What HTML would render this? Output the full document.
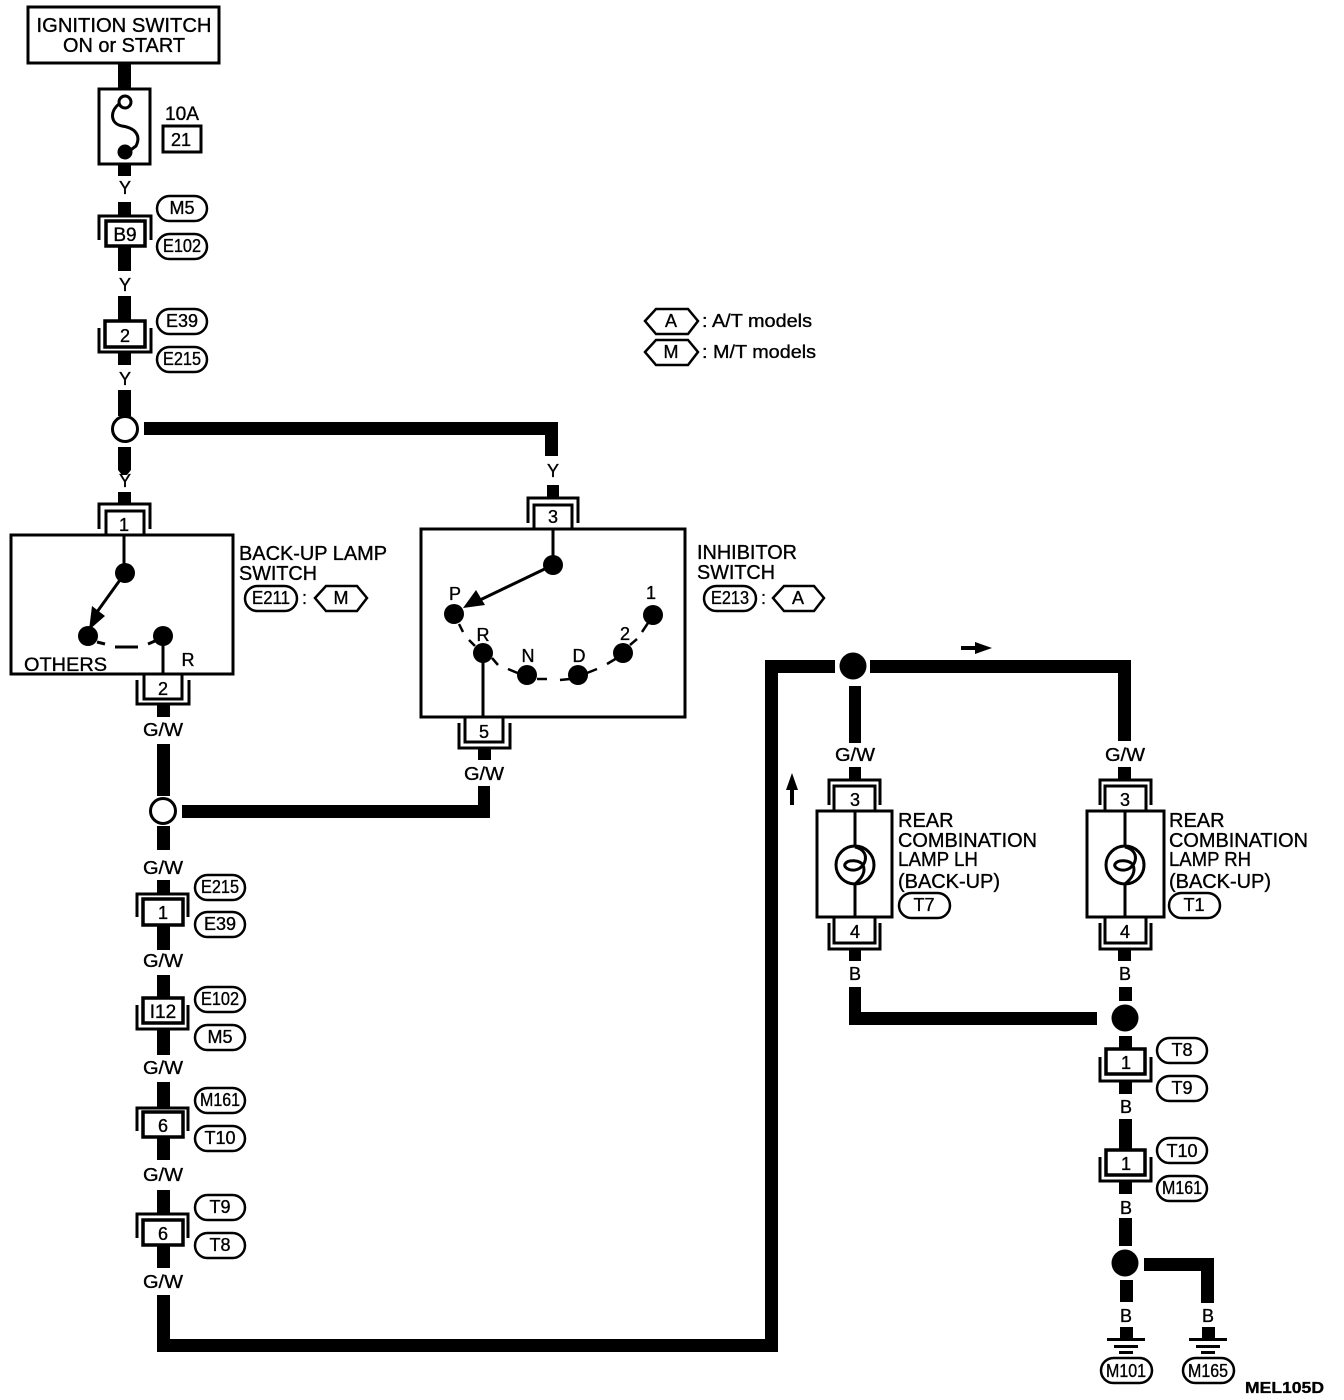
<!DOCTYPE html>
<html><head><meta charset="utf-8"><style>
html,body{margin:0;padding:0;background:#fff}
svg{display:block}
text{font-family:"Liberation Sans",sans-serif;font-size:20px;fill:#000;stroke:#000;stroke-width:.35}
.c{text-anchor:middle}
.t{fill:none;stroke:#000;stroke-width:3}
.b{fill:#fff;stroke:#000;stroke-width:3}
.h{fill:none;stroke:#000;stroke-width:2.500}
</style></head><body>
<svg width="1344" height="1400" viewBox="0 0 1344 1400" xmlns="http://www.w3.org/2000/svg">
<!-- thick wires -->
<g fill="#000">
<rect x="118" y="63" width="13" height="26"/>
<rect x="118" y="164" width="13" height="12"/>
<rect x="118" y="202" width="13" height="14"/>
<rect x="118" y="246" width="13" height="25"/>
<rect x="118" y="296" width="13" height="26"/>
<rect x="118" y="353" width="13" height="12"/>
<rect x="118" y="390" width="13" height="26"/>
<path d="M118 447H131V470L127 475H122L118 470z"/>
<rect x="118" y="492" width="13" height="11"/>
<path d="M144 422H558V456H545V435H144z"/>
<rect x="547" y="485" width="12" height="12"/>
<rect x="157" y="705" width="13" height="12"/>
<rect x="157" y="744" width="13" height="52"/>
<rect x="157" y="826" width="13" height="24"/>
<rect x="157" y="880" width="13" height="14"/>
<rect x="157" y="925" width="13" height="25"/>
<rect x="157" y="975" width="13" height="24"/>
<rect x="157" y="1030" width="13" height="25"/>
<rect x="157" y="1082" width="13" height="26"/>
<rect x="157" y="1135" width="13" height="25"/>
<rect x="157" y="1190" width="13" height="24"/>
<rect x="157" y="1245" width="13" height="23"/>
<rect x="478" y="748" width="13" height="12"/>
<path d="M182 805H478V786H490V818H182z"/>
<path d="M157 1295H170V1339H765V660H835V673H778V1352H157z"/>
<path d="M870 660H1131V741H1118V673H870z"/>
<rect x="849" y="686" width="12" height="57"/>
<rect x="849" y="767" width="12" height="13"/>
<rect x="1118" y="767" width="13" height="13"/>
<rect x="849" y="949" width="12" height="12"/>
<rect x="1118" y="949" width="13" height="12"/>
<path d="M849 987H861V1012H1097V1025H849z"/>
<rect x="1119" y="987" width="13" height="14"/>
<rect x="1119" y="1036" width="13" height="14"/>
<rect x="1119" y="1082" width="13" height="12"/>
<rect x="1119" y="1119" width="13" height="32"/>
<rect x="1119" y="1182" width="13" height="12"/>
<rect x="1119" y="1218" width="13" height="28"/>
<path d="M1144 1258H1214V1303H1201V1271H1144z"/>
<rect x="1120" y="1280" width="13" height="22"/>
<rect x="1120" y="1327" width="13" height="12"/>
<rect x="1202" y="1327" width="13" height="12"/>
<circle cx="853" cy="666" r="13.500"/>
<circle cx="1125" cy="1018" r="13.500"/>
<circle cx="1125" cy="1263" r="13.500"/>
<rect x="1107" y="1338" width="38" height="3"/>
<rect x="1114" y="1345" width="24" height="3"/>
<rect x="1119" y="1351" width="14" height="3"/>
<rect x="1189" y="1338" width="38" height="3"/>
<rect x="1196" y="1345" width="24" height="3"/>
<rect x="1201" y="1351" width="14" height="3"/>
<path d="M961 646H975V642L992 648L975 654V650H961z"/>
<path d="M792 773L798 790H794V805H790V790H786z"/>
</g>
<circle class="b" cx="125" cy="429" r="12.500"/>
<circle class="b" cx="163" cy="811" r="12.500"/>

<!-- ignition and fuse -->
<rect class="t" x="28" y="7" width="191" height="56"/>
<text class="c" x="124" y="32" textLength="175" lengthAdjust="spacingAndGlyphs">IGNITION SWITCH</text>
<text class="c" x="124" y="52" textLength="122" lengthAdjust="spacingAndGlyphs">ON or START</text>
<rect class="t" x="99" y="89" width="51" height="75"/>
<circle cx="125" cy="102" r="6" fill="#fff" stroke="#000" stroke-width="3"/>
<path fill="none" stroke="#000" stroke-width="3" d="M119 104C109 112 111 124 122 126C136 128 141 136 136 146L128 152"/>
<circle cx="125" cy="152" r="7.500"/>
<text class="c" x="182" y="120" style="font-size:19px" textLength="34" lengthAdjust="spacingAndGlyphs">10A</text>
<rect class="t" x="163" y="126" width="38" height="26"/>
<text class="c" x="181" y="146" style="font-size:18px">21</text>

<!-- left top connectors -->
<path class="t" d="M99 240V216H151V240"/>
<rect class="b" x="106" y="221" width="39" height="25" style="stroke-width:3.500"/>
<text class="c" x="125" y="241" style="font-size:19px">B9</text>
<path class="t" d="M99 328V352H151V328"/>
<rect class="b" x="105" y="321" width="40" height="26" style="stroke-width:3.500"/>
<text class="c" x="125" y="342" style="font-size:18px">2</text>

<path class="t" d="M99 529V504H150V529"/>
<path class="t" d="M106 535V511H144V535"/>
<text class="c" x="124" y="531" style="font-size:18px">1</text>

<!-- back-up switch -->
<rect class="t" x="11" y="535" width="222" height="139"/>
<path class="t" d="M124 535V572M125 573L97 612M163 636V674M115 647H138M97 642L105 644M148 644L155 641"/>
<circle cx="125" cy="573" r="10"/>
<circle cx="88" cy="636" r="10"/>
<circle cx="163" cy="636" r="10"/>
<path d="M89 630L92 606L105 616z"/>
<text x="24" y="671" style="font-size:19px" textLength="83" lengthAdjust="spacingAndGlyphs">OTHERS</text>
<text class="c" x="188" y="666" style="font-size:18px">R</text>
<path class="t" d="M137 680V704H189V680"/>
<path class="t" d="M144 675V699H182V675"/>
<text class="c" x="163" y="695" style="font-size:18px">2</text>
<text x="239" y="560" textLength="148" lengthAdjust="spacingAndGlyphs">BACK-UP LAMP</text>
<text x="239" y="580" textLength="78" lengthAdjust="spacingAndGlyphs">SWITCH</text>

<!-- inhibitor switch -->
<rect class="t" x="421" y="529" width="264" height="188"/>
<path class="t" d="M534 529V505H572V529"/>
<path class="t" d="M528 523V498H578V523"/>
<text class="c" x="553" y="523" style="font-size:18px">3</text>
<path class="t" d="M553 529V565M553 565L480 600M483 653V717"/>
<path d="M463 608L476 590L485 605z"/>
<circle cx="553" cy="565" r="10"/>
<circle cx="454" cy="614" r="10"/>
<circle cx="483" cy="653" r="10"/>
<circle cx="527" cy="675" r="10"/>
<circle cx="578" cy="675" r="10"/>
<circle cx="623" cy="653" r="10"/>
<circle cx="653" cy="615" r="10"/>
<path class="h" d="M459 624L463 632M469 640L475 646M492 658L498 665M508 669L520 674M537 679H547M560 680L570 679M587 673L597 669M607 664L617 658M630 645L637 639M642 632L648 623"/>
<text class="c" x="455" y="600" style="font-size:18px">P</text>
<text class="c" x="483" y="641" style="font-size:18px">R</text>
<text class="c" x="528" y="662" style="font-size:18px">N</text>
<text class="c" x="579" y="662" style="font-size:18px">D</text>
<text class="c" x="625" y="640" style="font-size:18px">2</text>
<text class="c" x="651" y="599" style="font-size:18px">1</text>
<path class="t" d="M465 717V742H503V717"/>
<path class="t" d="M459 723V748H510V723"/>
<text class="c" x="484" y="738" style="font-size:18px">5</text>
<text x="697" y="559" textLength="100" lengthAdjust="spacingAndGlyphs">INHIBITOR</text>
<text x="697" y="579" textLength="78" lengthAdjust="spacingAndGlyphs">SWITCH</text>

<!-- left lower connectors -->
<path class="t" d="M137 917V894H188V917"/>
<rect class="b" x="143" y="899" width="40" height="26" style="stroke-width:3.500"/>
<text class="c" x="163" y="919" style="font-size:18px">1</text>
<path class="t" d="M137 1005V1029H188V1005"/>
<rect class="b" x="143" y="998" width="40" height="25" style="stroke-width:3.500"/>
<text class="c" x="163" y="1018" style="font-size:19px">I12</text>
<path class="t" d="M137 1131V1108H188V1131"/>
<rect class="b" x="143" y="1112" width="40" height="25" style="stroke-width:3.500"/>
<text class="c" x="163" y="1132" style="font-size:18px">6</text>
<path class="t" d="M137 1238V1214H188V1238"/>
<rect class="b" x="143" y="1220" width="40" height="25" style="stroke-width:3.500"/>
<text class="c" x="163" y="1240" style="font-size:18px">6</text>

<!-- lamps -->
<path class="t" d="M829 805V780H880V805"/>
<path class="t" d="M834 811V786H875V811"/>
<text class="c" x="855" y="806" style="font-size:18px">3</text>
<rect class="t" x="817" y="811" width="75" height="106"/>
<path class="t" d="M855 811V917"/>
<circle cx="855" cy="865" r="19" fill="#fff" stroke="#000" stroke-width="3"/>
<path fill="none" stroke="#000" stroke-width="3" d="M855 847C868 850 868 862 860 868C852 873 843 868 845 864C848 859 860 860 863 865C866 872 862 878 855 884"/>
<path class="t" d="M834 917V943H875V917"/>
<path class="t" d="M829 923V949H880V923"/>
<text class="c" x="855" y="938" style="font-size:18px">4</text>
<text x="898" y="827">REAR</text>
<text x="898" y="847" textLength="139" lengthAdjust="spacingAndGlyphs">COMBINATION</text>
<text x="898" y="866" textLength="80" lengthAdjust="spacingAndGlyphs">LAMP LH</text>
<text x="898" y="888" textLength="102" lengthAdjust="spacingAndGlyphs">(BACK-UP)</text>

<path class="t" d="M1100 805V780H1151V805"/>
<path class="t" d="M1105 811V786H1146V811"/>
<text class="c" x="1125" y="806" style="font-size:18px">3</text>
<rect class="t" x="1087" y="811" width="77" height="106"/>
<path class="t" d="M1125 811V917"/>
<circle cx="1125" cy="865" r="19" fill="#fff" stroke="#000" stroke-width="3"/>
<path fill="none" stroke="#000" stroke-width="3" d="M1125 847C1138 850 1138 862 1130 868C1122 873 1113 868 1115 864C1118 859 1130 860 1133 865C1136 872 1132 878 1125 884"/>
<path class="t" d="M1105 917V943H1146V917"/>
<path class="t" d="M1100 923V949H1151V923"/>
<text class="c" x="1125" y="938" style="font-size:18px">4</text>
<text x="1169" y="827">REAR</text>
<text x="1169" y="847" textLength="139" lengthAdjust="spacingAndGlyphs">COMBINATION</text>
<text x="1169" y="866" textLength="82" lengthAdjust="spacingAndGlyphs">LAMP RH</text>
<text x="1169" y="888" textLength="102" lengthAdjust="spacingAndGlyphs">(BACK-UP)</text>

<!-- right lower connectors -->
<path class="t" d="M1100 1057V1081H1151V1057"/>
<rect class="b" x="1106" y="1049" width="39" height="25" style="stroke-width:3.500"/>
<text class="c" x="1126" y="1069" style="font-size:18px">1</text>
<path class="t" d="M1100 1157V1181H1151V1157"/>
<rect class="b" x="1106" y="1150" width="39" height="25" style="stroke-width:3.500"/>
<text class="c" x="1126" y="1170" style="font-size:18px">1</text>

<!-- wire colour labels -->
<text class="c" x="125" y="194" style="font-size:18px">Y</text>
<text class="c" x="125" y="291" style="font-size:18px">Y</text>
<text class="c" x="125" y="385" style="font-size:18px">Y</text>
<text class="c" x="125" y="487" style="font-size:18px">Y</text>
<text class="c" x="553" y="477" style="font-size:18px">Y</text>
<text class="c" x="163" y="736" style="font-size:18px" textLength="40" lengthAdjust="spacingAndGlyphs">G/W</text>
<text class="c" x="484" y="780" style="font-size:18px" textLength="40" lengthAdjust="spacingAndGlyphs">G/W</text>
<text class="c" x="163" y="874" style="font-size:18px" textLength="40" lengthAdjust="spacingAndGlyphs">G/W</text>
<text class="c" x="163" y="967" style="font-size:18px" textLength="40" lengthAdjust="spacingAndGlyphs">G/W</text>
<text class="c" x="163" y="1074" style="font-size:18px" textLength="40" lengthAdjust="spacingAndGlyphs">G/W</text>
<text class="c" x="163" y="1181" style="font-size:18px" textLength="40" lengthAdjust="spacingAndGlyphs">G/W</text>
<text class="c" x="163" y="1288" style="font-size:18px" textLength="40" lengthAdjust="spacingAndGlyphs">G/W</text>
<text class="c" x="855" y="761" style="font-size:18px" textLength="40" lengthAdjust="spacingAndGlyphs">G/W</text>
<text class="c" x="1125" y="761" style="font-size:18px" textLength="40" lengthAdjust="spacingAndGlyphs">G/W</text>
<text class="c" x="855" y="980" style="font-size:18px">B</text>
<text class="c" x="1125" y="980" style="font-size:18px">B</text>
<text class="c" x="1126" y="1113" style="font-size:18px">B</text>
<text class="c" x="1126" y="1214" style="font-size:18px">B</text>
<text class="c" x="1126" y="1322" style="font-size:18px">B</text>
<text class="c" x="1208" y="1322" style="font-size:18px">B</text>

<!-- pills -->
<g class="h">
<rect x="157" y="196" width="50" height="25" rx="12.500"/>
<rect x="157" y="234" width="50" height="25" rx="12.500"/>
<rect x="157" y="309" width="50" height="25" rx="12.500"/>
<rect x="157" y="347" width="50" height="25" rx="12.500"/>
<rect x="245" y="586" width="52" height="25" rx="12.500"/>
<rect x="704" y="586" width="52" height="25" rx="12.500"/>
<rect x="195" y="875" width="50" height="25" rx="12.500"/>
<rect x="195" y="912" width="50" height="25" rx="12.500"/>
<rect x="195" y="987" width="50" height="25" rx="12.500"/>
<rect x="195" y="1025" width="50" height="25" rx="12.500"/>
<rect x="195" y="1088" width="50" height="25" rx="12.500"/>
<rect x="195" y="1126" width="50" height="25" rx="12.500"/>
<rect x="195" y="1195" width="50" height="25" rx="12.500"/>
<rect x="195" y="1233" width="50" height="25" rx="12.500"/>
<rect x="899" y="893" width="51" height="25" rx="12.500"/>
<rect x="1169" y="893" width="51" height="25" rx="12.500"/>
<rect x="1157" y="1038" width="50" height="25" rx="12.500"/>
<rect x="1157" y="1076" width="50" height="25" rx="12.500"/>
<rect x="1157" y="1138" width="50" height="25" rx="12.500"/>
<rect x="1157" y="1176" width="50" height="25" rx="12.500"/>
<rect x="1101" y="1358" width="51" height="25" rx="12.500"/>
<rect x="1183" y="1358" width="51" height="25" rx="12.500"/>
<path d="M645 321L656 309H688L698 321L688 334H656z"/>
<path d="M645 352L656 340H688L698 352L688 365H656z"/>
<path d="M315 598L326 586H357L367 598L357 611H326z"/>
<path d="M773 598L784 586H814L824 598L814 611H784z"/>
</g>
<text class="c" x="182" y="214" style="font-size:18px">M5</text>
<text class="c" x="182" y="252" style="font-size:18px" textLength="38" lengthAdjust="spacingAndGlyphs">E102</text>
<text class="c" x="182" y="327" style="font-size:18px">E39</text>
<text class="c" x="182" y="365" style="font-size:18px" textLength="38" lengthAdjust="spacingAndGlyphs">E215</text>
<text class="c" x="271" y="604" style="font-size:18px" textLength="38" lengthAdjust="spacingAndGlyphs">E211</text>
<text class="c" x="730" y="604" style="font-size:18px" textLength="38" lengthAdjust="spacingAndGlyphs">E213</text>
<text class="c" x="220" y="893" style="font-size:18px" textLength="38" lengthAdjust="spacingAndGlyphs">E215</text>
<text class="c" x="220" y="930" style="font-size:18px">E39</text>
<text class="c" x="220" y="1005" style="font-size:18px" textLength="38" lengthAdjust="spacingAndGlyphs">E102</text>
<text class="c" x="220" y="1043" style="font-size:18px">M5</text>
<text class="c" x="220" y="1106" style="font-size:18px" textLength="40" lengthAdjust="spacingAndGlyphs">M161</text>
<text class="c" x="220" y="1144" style="font-size:18px">T10</text>
<text class="c" x="220" y="1213" style="font-size:18px">T9</text>
<text class="c" x="220" y="1251" style="font-size:18px">T8</text>
<text class="c" x="924" y="911" style="font-size:18px">T7</text>
<text class="c" x="1194" y="911" style="font-size:18px">T1</text>
<text class="c" x="1182" y="1056" style="font-size:18px">T8</text>
<text class="c" x="1182" y="1094" style="font-size:18px">T9</text>
<text class="c" x="1182" y="1157" style="font-size:18px">T10</text>
<text class="c" x="1182" y="1194" style="font-size:18px" textLength="40" lengthAdjust="spacingAndGlyphs">M161</text>
<text class="c" x="1126" y="1377" style="font-size:18px" textLength="40" lengthAdjust="spacingAndGlyphs">M101</text>
<text class="c" x="1208" y="1377" style="font-size:18px" textLength="40" lengthAdjust="spacingAndGlyphs">M165</text>
<text class="c" x="341" y="604" style="font-size:18px">M</text>
<text class="c" x="671" y="327" style="font-size:18px">A</text>
<text class="c" x="671" y="358" style="font-size:18px">M</text>
<text class="c" x="798" y="604" style="font-size:18px">A</text>
<text x="302" y="604" style="font-size:18px">:</text>
<text x="761" y="604" style="font-size:18px">:</text>
<text x="702" y="327" style="font-size:18px" textLength="110" lengthAdjust="spacingAndGlyphs">: A/T models</text>
<text x="702" y="358" style="font-size:18px" textLength="114" lengthAdjust="spacingAndGlyphs">: M/T models</text>
<text x="1245" y="1393" style="font-size:16px;font-weight:bold" textLength="79" lengthAdjust="spacingAndGlyphs">MEL105D</text>
</svg>
</body></html>
